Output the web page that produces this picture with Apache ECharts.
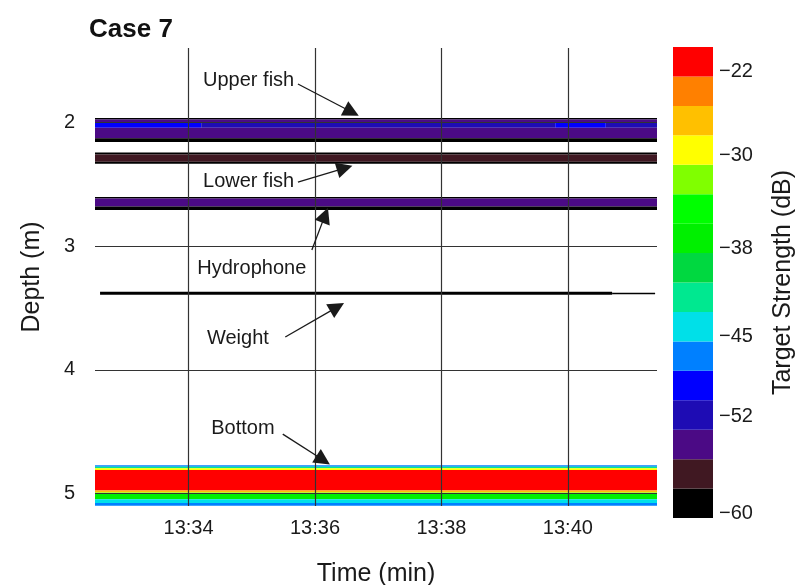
<!DOCTYPE html>
<html>
<head>
<meta charset="utf-8">
<script src="https://cdn.jsdelivr.net/npm/echarts@6/dist/echarts.min.js"></script>
<style>
  html, body { margin: 0; background: #fff; }
  #chart { width: 799px; height: 585px; }
</style>
</head>
<body>
<div id="chart"></div>
<script>
const FONT = 'Arial, "Liberation Sans", sans-serif';

// time is minutes after 13:00
const timeTicks = [34, 36, 38, 40];
const depthTicks = [2, 3, 4, 5];

// echogram layers: [start min, end min, top depth m, bottom depth m, TS dB]
const upperFish = [
  [32.52, 41.41, 1.965, 1.978, -59],
  [32.52, 41.41, 1.978, 2.005, -53],
  [32.52, 34.20, 2.005, 2.045, -49],
  [34.20, 39.80, 2.005, 2.045, -51],
  [39.80, 40.60, 2.005, 2.045, -49],
  [40.60, 41.41, 2.005, 2.045, -51],
  [32.52, 41.41, 2.045, 2.130, -53],
  [32.52, 41.41, 2.130, 2.160, -58]
];
const lowerFish = [
  [32.52, 41.41, 2.245, 2.260, -59],
  [32.52, 41.41, 2.260, 2.318, -56],
  [32.52, 41.41, 2.318, 2.335, -59]
];
const hydrophone = [
  [32.52, 41.41, 2.604, 2.616, -58],
  [32.52, 41.41, 2.616, 2.680, -54],
  [32.52, 41.41, 2.680, 2.709, -59]
];
const weight = [
  [32.60, 40.70, 3.370, 3.394, -60],
  [40.70, 41.38, 3.377, 3.390, -60]
];
const bottom = [
  [32.52, 41.41, 4.770, 4.782, -47],
  [32.52, 41.41, 4.782, 4.795, -41],
  [32.52, 41.41, 4.795, 4.810, -29],
  [32.52, 41.41, 4.810, 4.975, -21],
  [32.52, 41.41, 4.975, 4.990, -27],
  [32.52, 41.41, 4.990, 5.000, -31],
  [32.52, 41.41, 5.000, 5.045, -36],
  [32.52, 41.41, 5.045, 5.075, -43],
  [32.52, 41.41, 5.075, 5.097, -47]
];

// colour scale
const tsBreaks = [-60, -57.5, -55, -52.5, -50, -47.5, -45, -42.5, -40, -37.5, -35, -32.5, -30, -27.5, -25, -22.5, -20];
const tsColors = ['#000000', '#401822', '#4b0a85', '#1e0cb4', '#0000ff', '#0080ff', '#00e0e8', '#00e890',
                  '#00d840', '#00f000', '#00ff00', '#80ff00', '#ffff00', '#ffc000', '#ff8000', '#ff0000'];
const tsTickValues = [-59.6, -51.4, -44.6, -37.1, -29.2, -22.1];
const tsTickLabels = ['\u221260', '\u221252', '\u221245', '\u221238', '\u221230', '\u221222'];

// annotations: text position and arrow from/to, in [min, depth]
const notes = [
  { name: 'Upper fish', text: [34.95, 1.659], from: [35.73, 1.691], to: [36.58, 1.917] },
  { name: 'Lower fish', text: [34.95, 2.475], from: [35.73, 2.483], to: [36.47, 2.370] },
  { name: 'Hydrophone', text: [35.00, 3.178], from: [35.95, 3.032], to: [36.16, 2.750] },
  { name: 'Weight', text: [34.78, 3.743], from: [35.53, 3.735], to: [36.35, 3.493] },
  { name: 'Bottom', text: [34.86, 4.470], from: [35.49, 4.519], to: [36.13, 4.729] }
];

const layers = [].concat(upperFish, lowerFish, hydrophone, weight, bottom);
const cells = tsColors.map((c, i) => [0, 1, tsBreaks[i], tsBreaks[i + 1], (tsBreaks[i] + tsBreaks[i + 1]) / 2]);

function renderRect(params, api) {
  const p0 = api.coord([api.value(0), api.value(2)]);
  const p1 = api.coord([api.value(1), api.value(3)]);
  const shape = echarts.graphic.clipRectByRect({
    x: Math.min(p0[0], p1[0]),
    y: Math.min(p0[1], p1[1]),
    width: Math.abs(p1[0] - p0[0]),
    height: Math.abs(p1[1] - p0[1])
  }, params.coordSys);
  return shape && { type: 'rect', shape: shape, style: { fill: api.visual('color') } };
}

const chart = echarts.init(document.getElementById('chart'));
const gridLine = { show: true, lineStyle: { color: '#333', width: 1.2 } };

chart.setOption({
  animation: false,
  backgroundColor: '#fff',
  textStyle: { fontFamily: FONT },
  title: {
    text: 'Case 7', left: 84, top: 12,
    textStyle: { fontFamily: FONT, fontSize: 26, fontWeight: 'bold', color: '#111' }
  },
  grid: [
    { left: 95, right: 142, top: 48, bottom: 79, outerBoundsMode: 'none' },
    { left: 673, width: 40, top: 47, height: 471, outerBoundsMode: 'none' }
  ],
  xAxis: [
    {
      type: 'value', min: 32.52, max: 41.41, z: 3,
      name: 'Time (min)', nameLocation: 'middle', nameGap: 56,
      nameTextStyle: { fontSize: 25, color: '#1a1a1a' },
      axisLine: { show: false },
      axisTick: { show: false, customValues: timeTicks },
      axisLabel: { customValues: timeTicks, fontSize: 20, color: '#1a1a1a', margin: 12,
                   formatter: v => '13:' + v },
      splitLine: gridLine
    },
    { type: 'value', gridIndex: 1, min: 0, max: 1, show: false }
  ],
  yAxis: [
    {
      type: 'value', inverse: true, min: 1.4, max: 5.1, z: 3,
      name: 'Depth (m)', nameLocation: 'middle', nameGap: 50, nameRotate: 90,
      nameTextStyle: { fontSize: 25, color: '#1a1a1a' },
      axisLine: { show: false },
      axisTick: { show: false, customValues: depthTicks },
      axisLabel: { customValues: depthTicks, fontSize: 20, color: '#1a1a1a', margin: 20 },
      splitLine: gridLine
    },
    {
      type: 'value', gridIndex: 1, min: -60, max: -20, position: 'right',
      name: 'Target Strength (dB)', nameLocation: 'middle', nameGap: 58, nameRotate: 90,
      nameTextStyle: { fontSize: 25, color: '#1a1a1a' },
      axisLine: { show: false },
      axisTick: { show: false, customValues: tsTickValues },
      axisLabel: { customValues: tsTickValues, fontSize: 20, color: '#1a1a1a', margin: 6,
                   formatter: v => tsTickLabels[tsTickValues.indexOf(v)] },
      splitLine: { show: false }
    }
  ],
  visualMap: {
    type: 'piecewise', show: false, dimension: 4, seriesIndex: [0, 1],
    pieces: tsColors.map((c, i) => ({ gte: tsBreaks[i], lt: tsBreaks[i + 1], color: c }))
  },
  series: [
    {
      type: 'custom', name: 'echogram', silent: true,
      encode: { x: [0, 1], y: [2, 3] },
      renderItem: renderRect,
      data: layers,
      markLine: {
        silent: true, symbol: ['none', 'triangle'], symbolSize: 16,
        label: { show: false },
        lineStyle: { color: '#1a1a1a', width: 1.3, type: 'solid' },
        data: notes.map(n => [{ coord: n.from }, { coord: n.to }])
      },
      markPoint: {
        silent: true, symbol: 'circle', symbolSize: 0,
        itemStyle: { color: 'transparent' },
        label: { show: true, position: 'inside', formatter: '{b}', fontSize: 20, color: '#1a1a1a', fontFamily: FONT },
        data: notes.map(n => ({ name: n.name, coord: n.text }))
      }
    },
    {
      type: 'custom', name: 'colorbar', silent: true,
      xAxisIndex: 1, yAxisIndex: 1,
      encode: { x: [0, 1], y: [2, 3] },
      renderItem: renderRect,
      data: cells
    }
  ]
});
</script>
</body>
</html>
